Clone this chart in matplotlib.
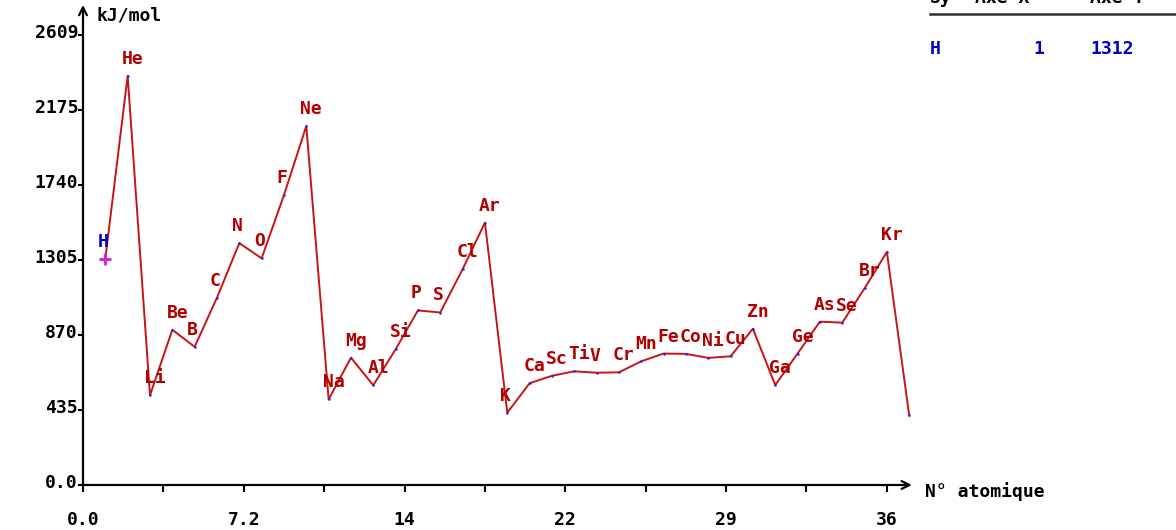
"""
First ionisation energy vs atomic number (H to Rb), styled like an old
DOS plotting program.
"""

import matplotlib

matplotlib.use("Agg")
import matplotlib.pyplot as plt
import matplotlib.transforms as mtransforms

# Data
atomic_numbers = list(range(1, 38))
symbols = [
    "H", "He", "Li", "Be", "B", "C", "N", "O", "F", "Ne",
    "Na", "Mg", "Al", "Si", "P", "S", "Cl", "Ar", "K", "Ca",
    "Sc", "Ti", "V", "Cr", "Mn", "Fe", "Co", "Ni", "Cu", "Zn",
    "Ga", "Ge", "As", "Se", "Br", "Kr", "Rb",
]
energies = [
    1312, 2372, 520, 900, 801, 1086, 1402, 1314, 1681, 2081,
    496, 738, 578, 787, 1012, 1000, 1251, 1521, 419, 590,
    633, 659, 651, 653, 717, 762, 760, 737, 746, 906,
    579, 762, 947, 941, 1140, 1351, 403,
]
labelled = 36  # Rb has no label in the picture

x_major = [0.0, 7.2, 14.4, 21.6, 28.8, 36.0]
x_major_labels = ["0.0", "7.2", "14", "22", "29", "36"]
x_minor = [3.6, 10.8, 18.0, 25.2, 32.4]
y_major = [0.0, 434.8, 869.7, 1304.5, 1739.3, 2174.2, 2609.0]
y_major_labels = ["0.0", "435", "870", "1305", "1740", "2175", "2609"]

cursor_symbol = "H"
cursor_x = 1
cursor_y = 1312

W, H = 1176, 530
DPI = 100
FONT = "DejaVu Sans Mono"
FS = 13
RED_LINE = "#c81414"
RED_TEXT = "#b00000"
BLUE = "#0000c0"


def px_to_pt(px):
    return px * 72.0 / DPI


def main():
    fig = plt.figure(figsize=(W / DPI, H / DPI), dpi=DPI)

    # axes placed so that 1 unit in x = 22.33 px and 1 kJ/mol = 0.1725 px
    xmax, ymax = 37.5, 2790
    left, bottom = 83, 45
    ax = fig.add_axes(
        [left / W, bottom / H, xmax * 22.33 / W, ymax * 0.1725 / H]
    )
    ax.set_xlim(0, xmax)
    ax.set_ylim(0, ymax)
    for s in ax.spines.values():
        s.set_visible(False)

    # axes drawn as arrows
    ax.annotate("", xy=(37.12, 0), xytext=(0, 0), annotation_clip=False,
                arrowprops=dict(arrowstyle="->", lw=1.6, color="black",
                                shrinkA=0, shrinkB=0, mutation_scale=14))
    ax.annotate("", xy=(0, 2783), xytext=(0, 0), annotation_clip=False,
                arrowprops=dict(arrowstyle="->", lw=1.6, color="black",
                                shrinkA=0, shrinkB=0, mutation_scale=14))

    # ticks
    ax.set_xticks(x_major)
    ax.set_xticklabels(x_major_labels)
    ax.set_xticks(x_minor, minor=True)
    ax.tick_params(axis="x", which="both", direction="out", length=px_to_pt(7),
                   width=1.5, pad=px_to_pt(19))
    ax.set_yticks(y_major)
    ax.set_yticklabels(y_major_labels)
    ax.tick_params(axis="y", direction="out", length=px_to_pt(5), width=1.5,
                   pad=0)
    lift = mtransforms.ScaledTranslation(0, 4 / DPI, fig.dpi_scale_trans)
    for lab in ax.get_yticklabels():
        lab.set_transform(lab.get_transform() + lift)
    for lab in ax.get_xticklabels() + ax.get_yticklabels():
        lab.set_fontfamily(FONT)
        lab.set_fontweight("bold")
        lab.set_fontsize(FS)

    # the curve
    ax.plot(atomic_numbers, energies, color=RED_LINE, lw=1.4, zorder=3)
    ax.plot(atomic_numbers, energies, "o", color="#2020ff", ms=1.8, mew=0,
            zorder=4)

    # element labels: left edge ~9 px left of the point, baseline ~12 px above
    for z, sym, e in zip(atomic_numbers[:labelled], symbols[:labelled],
                         energies[:labelled]):
        n = len(sym)
        dx = -9 + 7 * n
        ax.annotate(sym, xy=(z, e), xytext=(px_to_pt(dx), px_to_pt(12)),
                    textcoords="offset points", ha="center", va="baseline",
                    color=BLUE if sym == cursor_symbol else RED_TEXT,
                    fontfamily=FONT, fontweight="bold", fontsize=FS, zorder=5)

    # cursor cross on the selected element
    ax.plot([cursor_x], [cursor_y], marker="+", color="#d020d0", ms=9,
            mew=2, zorder=6)

    # axis titles
    fig.text(97 / W, 1 - 15 / H, "kJ/mol", fontfamily=FONT,
             fontweight="bold", fontsize=FS, ha="left", va="center")
    fig.text(925 / W, 1 - 492 / H, "N° atomique", fontfamily=FONT,
             fontweight="bold", fontsize=FS, ha="left", va="center")

    # read-out table in the top right corner (header cut by the frame,
    # as in the reference)
    for xpx, txt in [(930, "Sy"), (975, "Axe X"), (1090, "Axe Y")]:
        fig.text(xpx / W, 1 + 2 / H, txt, fontfamily=FONT, fontweight="bold",
                 fontsize=FS, ha="left", va="center")
    fig.add_artist(plt.Line2D([930 / W, 1.0], [1 - 14 / H, 1 - 14 / H],
                              color="#303030", lw=1.8, transform=fig.transFigure))
    for xpx, txt in [(930, cursor_symbol), (1033, str(cursor_x)),
                     (1090, str(cursor_y))]:
        fig.text(xpx / W, 1 - 49 / H, txt, fontfamily=FONT, fontweight="bold",
                 fontsize=FS, color=BLUE, ha="left", va="center")

    fig.savefig("out.png", dpi=DPI)
    plt.close(fig)


if __name__ == "__main__":
    main()
